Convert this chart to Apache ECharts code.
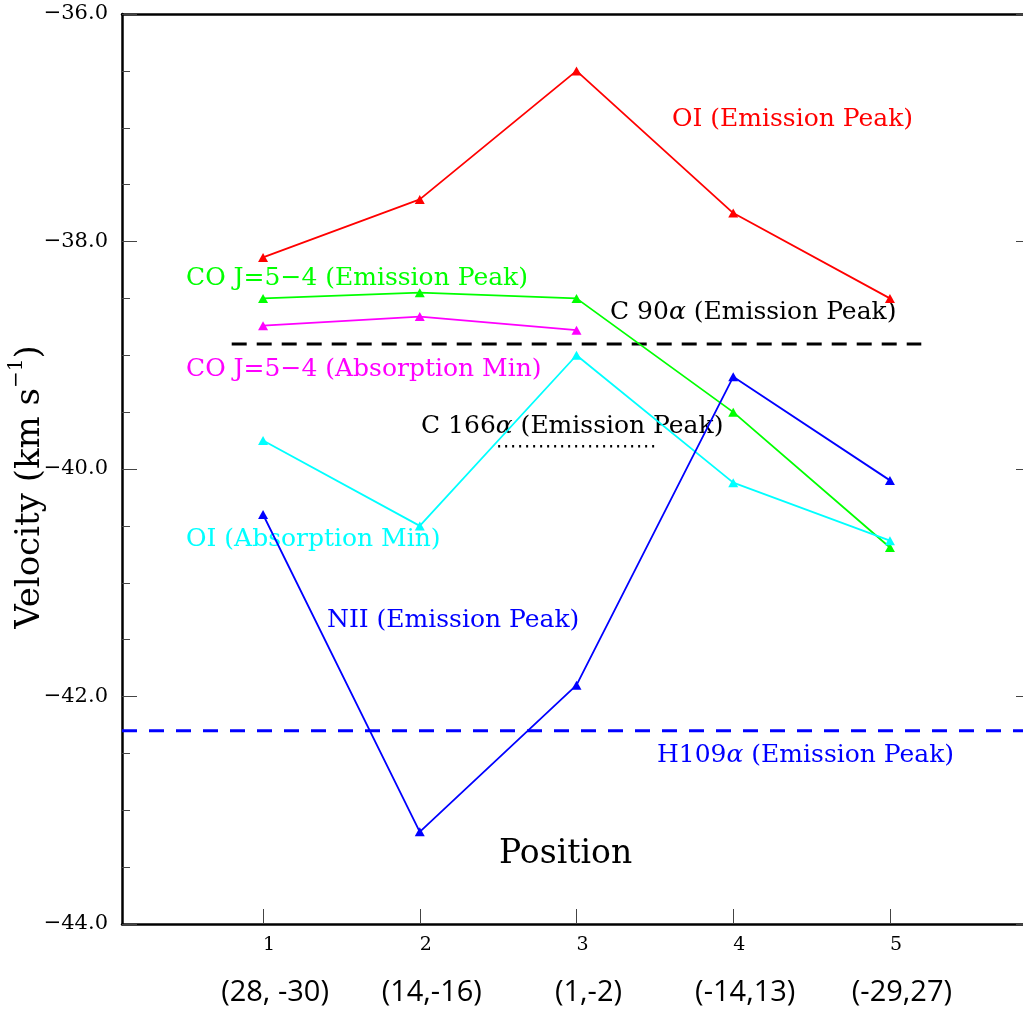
<!DOCTYPE html>
<html>
<head>
<meta charset="utf-8">
<script src="https://cdn.jsdelivr.net/npm/echarts@6/dist/echarts.min.js"></script>
<style>html,body{margin:0;padding:0;background:#fff;}#c{width:1023px;height:1009px;}</style>
</head>
<body>
<div id="c"></div>
<script>
// ---- data ----
const positions = [1, 2, 3, 4, 5];
const tickLabels = ['1', '2', '3', '4', '5'];
const offsetLabels = ['(28, -30)', '(14,-16)', '(1,-2)', '(-14,13)', '(-29,27)'];
const oiEmission = [-38.14, -37.63, -36.50, -37.75, -38.50];
const coEmission = [-38.50, -38.45, -38.50, -39.50, -40.69];
const coAbsorption = [-38.74, -38.66, -38.78];
const oiAbsorption = [-39.75, -40.50, -39.00, -40.12, -40.63];
const niiEmission = [-40.40, -43.19, -41.90, -39.19, -40.10];
const c90Range = [0.8, 5.2];
const c90Velocity = -38.90;
const c166Range = [2.5, 3.5];
const c166Velocity = -39.80;
const h109Range = [0.1, 5.9];
const h109Velocity = -42.30;

const SERIF = '"DejaVu Serif", serif';
const pts = (xs, vs) => vs.map((v, i) => [xs[i], v]);
const flat = (r, v) => [[r[0], v], [r[1], v]];

function lineSeries(name, data, color) {
  return {
    name, type: 'line', data, xAxisIndex: 0, yAxisIndex: 0,
    symbol: 'triangle', symbolSize: [10, 9],
    lineStyle: { color, width: 1.8 },
    itemStyle: { color },
    animation: false
  };
}
function refSeries(name, data, color, dash, width) {
  return {
    name, type: 'line', data, xAxisIndex: 0, yAxisIndex: 0,
    symbol: 'none', lineStyle: { color, width, type: dash }, animation: false
  };
}

const chart = echarts.init(document.getElementById('c'));
const FS = 25;
const label = (x, y, parts, color) => ({
  type: 'text', left: x, top: y - 15,
  style: {
    text: parts, fill: color, font: FS + 'px ' + SERIF,
    rich: {
      n: { fontFamily: SERIF, fontSize: FS, fill: color },
      g: { fontFamily: SERIF, fontSize: FS, fontStyle: 'italic', fill: color }
    }
  }
});
const frameLine = { show: true, lineStyle: { color: '#000', width: 2.5 } };

chart.setOption({
  animation: false,
  grid: {
    left: 122, top: 14, bottom: 85, right: -8, show: false,
    containLabel: false, outerBoundsMode: 'none'
  },
  xAxis: [
    {
      type: 'value', min: 0.1, max: 5.9, position: 'bottom',
      axisLine: frameLine, splitLine: { show: false },
      axisTick: { show: true, inside: true, length: 15, customValues: positions, lineStyle: { color: '#444', width: 1 } },
      axisLabel: {
        customValues: positions, margin: 12, padding: [0, 0, 0, 12],
        formatter: v => tickLabels[positions.indexOf(v)],
        fontFamily: SERIF, fontSize: 19, color: '#000'
      }
    },
    {
      type: 'value', min: 0.1, max: 5.9, position: 'bottom',
      axisLine: { show: false }, splitLine: { show: false }, axisTick: { show: false },
      axisLabel: {
        customValues: positions, margin: 54, padding: [0, 0, 0, 24],
        formatter: v => offsetLabels[positions.indexOf(v)],
        fontFamily: '"Open Sans", "Noto Sans", sans-serif', fontSize: 29, color: '#000'
      }
    },
    {
      type: 'value', min: 0.1, max: 5.9, position: 'top',
      axisLine: frameLine, splitLine: { show: false }, axisTick: { show: false },
      axisLabel: { show: false }
    }
  ],
  yAxis: [
    {
      type: 'value', min: -44, max: -36, interval: 2, position: 'left',
      axisLine: frameLine, splitLine: { show: false },
      axisTick: { show: true, inside: true, length: 15, lineStyle: { color: '#444', width: 1 } },
      minorTick: { show: true, splitNumber: 4, length: 8, lineStyle: { color: '#444', width: 1 } },
      axisLabel: {
        margin: 14, fontFamily: SERIF, fontSize: 21, color: '#000',
        formatter: v => (v < 0 ? '\u2212' : '') + Math.abs(v).toFixed(1)
      },
      name: '{n|Velocity (km s}{s|\u22121}{n|)}', nameLocation: 'middle', nameGap: 75, nameRotate: 90,
      nameMoveOverlap: false,
      nameTextStyle: {
        padding: [0, 36, 0, 0],
        rich: {
          n: { fontFamily: SERIF, fontSize: 34, color: '#000', lineHeight: 40, verticalAlign: 'bottom' },
          s: { fontFamily: SERIF, fontSize: 20, color: '#000', lineHeight: 40, verticalAlign: 'top' }
        }
      }
    },
    {
      type: 'value', min: -44, max: -36, interval: 2, position: 'right',
      axisLine: frameLine, splitLine: { show: false },
      axisTick: { show: true, inside: true, length: 15, lineStyle: { color: '#444', width: 1 } },
      minorTick: { show: true, splitNumber: 4, length: 8, lineStyle: { color: '#444', width: 1 } },
      axisLabel: { show: false }
    }
  ],
  series: [
    refSeries('C 90α', flat(c90Range, c90Velocity), '#000', [15, 10], 3),
    refSeries('C 166α', flat(c166Range, c166Velocity), '#000', [2, 5], 2.5),
    refSeries('H109α', flat(h109Range, h109Velocity), '#0000ff', [15, 12], 3),
    lineSeries('OI (Emission Peak)', pts(positions, oiEmission), '#ff0000'),
    lineSeries('CO J=5-4 (Emission Peak)', pts(positions, coEmission), '#00ff00'),
    lineSeries('CO J=5-4 (Absorption Min)', pts(positions, coAbsorption), '#ff00ff'),
    lineSeries('OI (Absorption Min)', pts(positions, oiAbsorption), '#00ffff'),
    lineSeries('NII (Emission Peak)', pts(positions, niiEmission), '#0000ff')
  ],
  graphic: [
    label(672, 122, '{n|OI (Emission Peak)}', '#ff0000'),
    label(186, 281, '{n|CO J=5\u22124 (Emission Peak)}', '#00ff00'),
    label(610, 315, '{n|C 90}{g|\u03b1}{n| (Emission Peak)}', '#000'),
    label(186, 372, '{n|CO J=5\u22124 (Absorption Min)}', '#ff00ff'),
    label(421, 429, '{n|C 166}{g|\u03b1}{n| (Emission Peak)}', '#000'),
    label(186, 542, '{n|OI (Absorption Min)}', '#00ffff'),
    label(327, 623, '{n|NII (Emission Peak)}', '#0000ff'),
    label(657, 758, '{n|H109}{g|\u03b1}{n| (Emission Peak)}', '#0000ff'),
    {
      type: 'text', left: 499, top: 838,
      style: { text: 'Position', fill: '#000', font: '33px ' + SERIF }
    }
  ]
});
</script>
</body>
</html>
